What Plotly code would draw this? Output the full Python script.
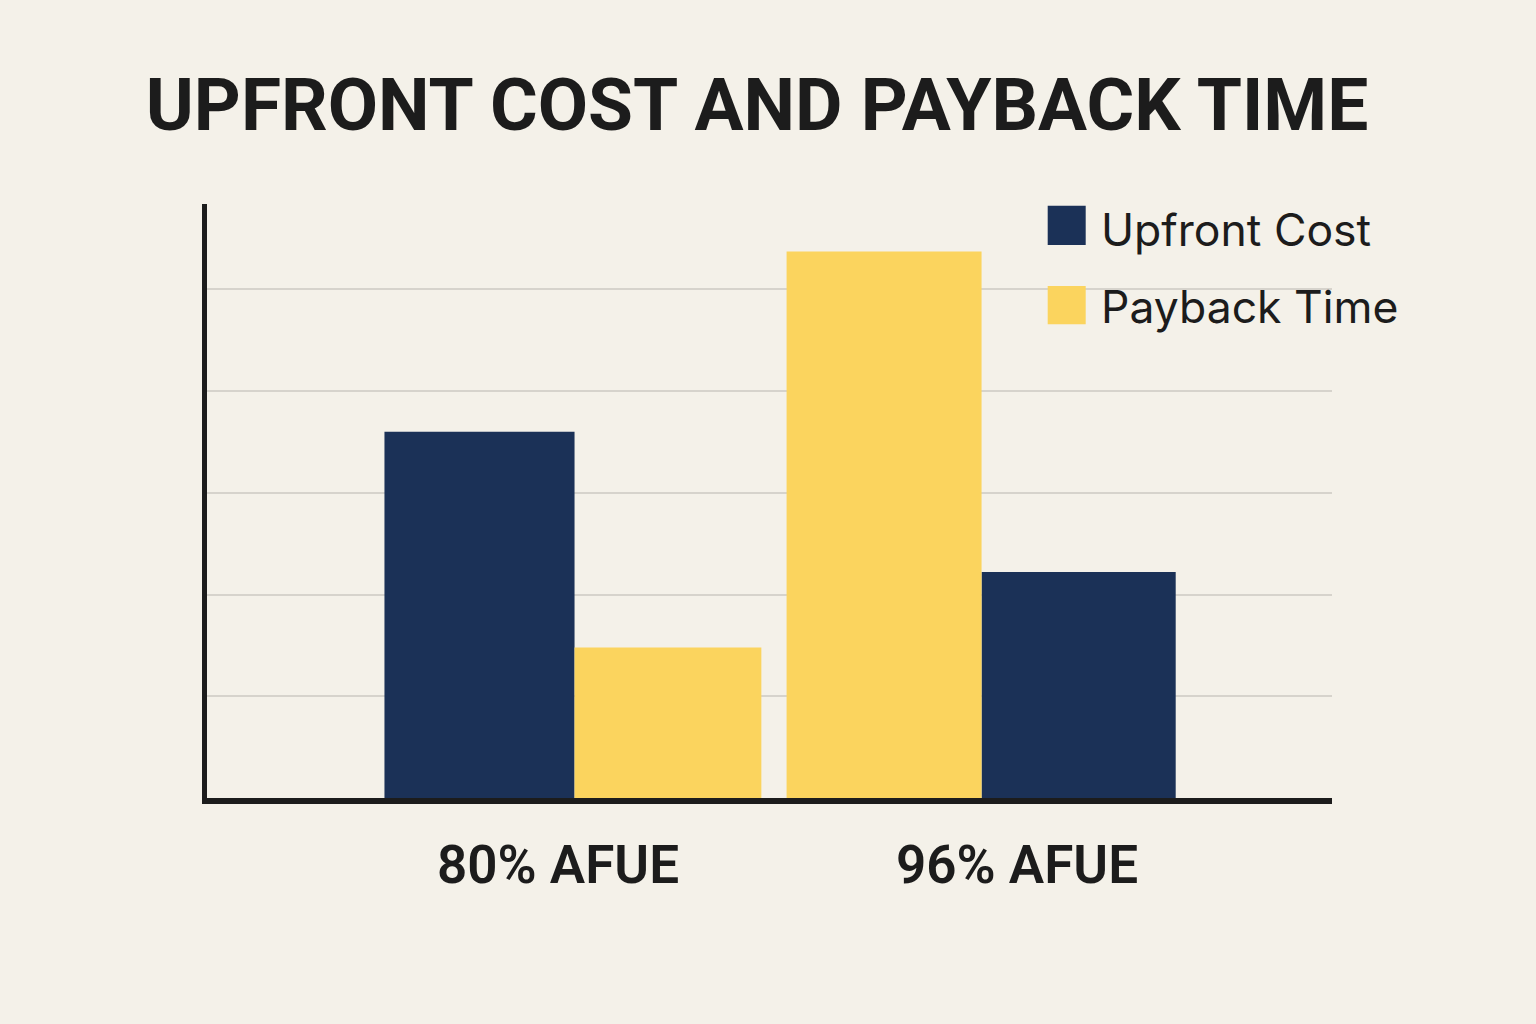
import plotly.graph_objects as go

# ---- data ----
categories = ["80% AFUE", "96% AFUE"]
series_names = ["Upfront Cost", "Payback Time"]
upfront_cost = [3.60, 2.22]
payback_time = [1.48, 5.37]
title_text = "UPFRONT COST AND PAYBACK TIME"

# ---- style ----
BG = "#f4f1e9"
NAVY = "#1b3157"
YELLOW = "#fbd45e"
INK = "#1c1c1c"
GRID = "#d6d3cc"

fig = go.Figure()
# bar order is swapped in the second group (navy first, then yellow / yellow first, then navy)
fig.add_trace(go.Bar(
    x=categories, y=upfront_cost, name=series_names[0],
    marker=dict(color=NAVY, line=dict(width=0)),
    width=[0.467, 0.477], offset=[-0.467, 0.0],
    showlegend=False,
))
fig.add_trace(go.Bar(
    x=categories, y=payback_time, name=series_names[1],
    marker=dict(color=YELLOW, line=dict(width=0)),
    width=[0.459, 0.479], offset=[0.0, -0.479],
    showlegend=False,
))

L, R, T, B = 207, 204, 204, 226

fig.update_layout(
    width=1536, height=1024,
    margin=dict(l=L, r=R, t=T, b=B, pad=0),
    paper_bgcolor=BG, plot_bgcolor=BG,
    barmode="overlay",
    title=dict(
        text=title_text,
        font=dict(family="Roboto", size=73, color=INK, weight=700),
        x=751 / 1536, xref="paper", xanchor="center",
        y=1 - 104 / 1024, yref="container", yanchor="middle",
    ),
    xaxis=dict(
        type="category", categoryorder="array", categoryarray=categories,
        range=[-0.903, 1.861],
        showgrid=False, zeroline=False,
        showline=True, linecolor=INK, linewidth=6,
        showticklabels=False, ticks="",
    ),
    yaxis=dict(
        range=[0, 5.838],
        tickvals=[1, 2, 3, 4, 5],
        showgrid=True, gridcolor=GRID, gridwidth=2,
        zeroline=False,
        showline=True, linecolor=INK, linewidth=5,
        showticklabels=False, ticks="",
    ),
)

# category labels under the axis
label_shift = [-17, 35.5]
for cat, dx in zip(categories, label_shift):
    fig.add_annotation(
        x=cat, xref="x", y=0, yref="paper", yanchor="top",
        xshift=dx, yshift=-34, showarrow=False, text=cat,
        font=dict(family="Roboto", size=53, color=INK, weight=600),
    )

# custom legend (large square swatches)
PW, PH = 1536 - L - R, 1024 - T - B
def px_x(v):
    return (v - L) / PW
def px_y(v):
    return (1024 - B - v) / PH

fig.add_shape(type="rect", xref="paper", yref="paper", layer="between",
              x0=px_x(1027), x1=1.0, y0=px_y(345), y1=1.0,
              fillcolor=BG, line=dict(width=0))
swatches = [(NAVY, 205.7, 245.0, 230), (YELLOW, 286.0, 324.3, 307)]
for (col, y0, y1, yc), name in zip(swatches, series_names):
    fig.add_shape(type="rect", xref="paper", yref="paper", layer="above",
                  x0=px_x(1047.7), x1=px_x(1085.7), y0=px_y(y1), y1=px_y(y0),
                  fillcolor=col, line=dict(width=0))
    fig.add_annotation(
        x=px_x(1099), xref="paper", xanchor="left",
        y=px_y(yc), yref="paper", yanchor="middle",
        showarrow=False, text=name,
        font=dict(family="Inter", size=44.5, color=INK),
    )

fig.write_html("out.html", config={"displayModeBar": False},
               post_script="document.body.style.margin='0';")
